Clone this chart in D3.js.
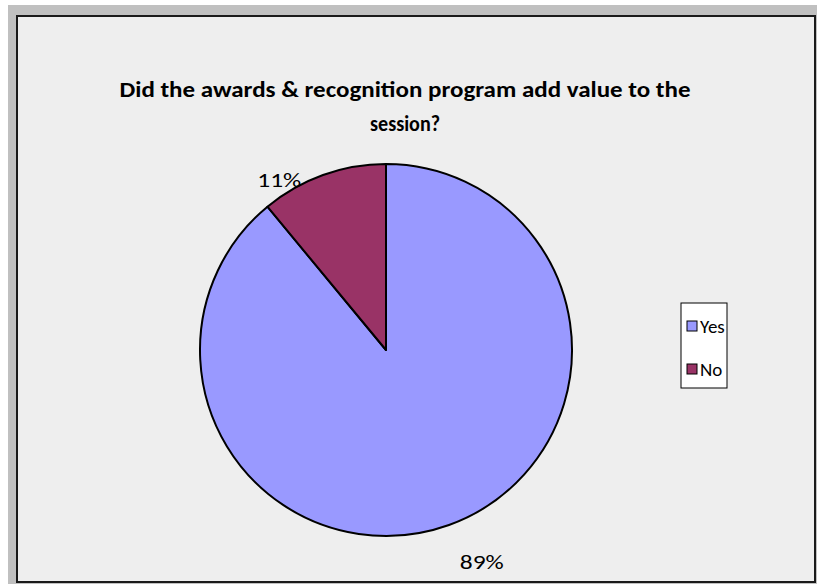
<!DOCTYPE html>
<html>
<head>
<meta charset="utf-8">
<script src="https://cdn.jsdelivr.net/npm/d3@7"></script>
<style>
  body { margin: 0; background: #ffffff; }
  svg { display: block; font-family: Carlito, Lato, "Open Sans", sans-serif; }
</style>
</head>
<body>
<div id="chart"></div>
<script>
// answers and their shares (%)
var categories = ["Yes", "No"];
var shares = [89, 11];
var colors = ["#9999ff", "#993366"];
var titleLines = ["Did the awards & recognition program add value to the", "session?"];
var titleWidths = [571, 70];

var W = 817, H = 584;

var svg = d3.select("#chart")
    .append("svg")
    .attr("width", W)
    .attr("height", H);

// outer grey band and the chart frame
svg.append("rect")
    .attr("x", 8).attr("y", 5)
    .attr("width", W - 8).attr("height", H - 5)
    .attr("fill", "#c0c0c0");

svg.append("rect")
    .attr("x", 17).attr("y", 16)
    .attr("width", 798).attr("height", 566)
    .attr("fill", "#eeeeee")
    .attr("stroke", "#1a1a1a")
    .attr("stroke-width", 2);

// title
svg.selectAll(".title")
    .data(titleLines)
    .enter().append("text")
    .attr("class", "title")
    .attr("x", 405)
    .attr("y", function(d, i) { return 97 + i * 34 })
    .attr("text-anchor", "middle")
    .attr("textLength", function(d, i) { return titleWidths[i] })
    .attr("lengthAdjust", "spacingAndGlyphs")
    .style("font-weight", "bold")
    .style("font-size", "23px")
    .attr("fill", "#000")
    .text(function(d) { return d });

var data = categories.map(function(c, i) { return {name: c, value: shares[i], color: colors[i]} });

var cx = 386, cy = 350, radius = 186;

var pie = d3.pie()
    .sort(null)
    .value(function(d) { return d.value });

var arc = d3.arc()
    .innerRadius(0)
    .outerRadius(radius);

var g = svg.append("g")
    .attr("transform", "translate(" + cx + "," + cy + ")");

var arcs = pie(data);

g.selectAll("path")
    .data(arcs)
    .enter().append("path")
    .attr("d", arc)
    .attr("fill", function(d) { return d.data.color })
    .attr("stroke", "#000")
    .attr("stroke-width", 2)
    .attr("stroke-linejoin", "round");

// percentage labels placed outside the slices
g.selectAll(".lbl")
    .data(arcs)
    .enter().append("text")
    .attr("class", "lbl")
    .attr("x", function(d) {
        var a = (d.startAngle + d.endAngle) / 2;
        return Math.sin(a) * 203 + (Math.sin(a) < 0 ? -38 : 27);
    })
    .attr("y", function(d) {
        var a = (d.startAngle + d.endAngle) / 2;
        return -Math.cos(a) * 203 + 21;
    })
    .attr("text-anchor", "middle")
    .attr("dominant-baseline", "central")
    .attr("textLength", 44)
    .attr("lengthAdjust", "spacingAndGlyphs")
    .style("font-size", "21px")
    .attr("fill", "#000")
    .text(function(d) { return d.data.value + "%" });

// legend
var legend = svg.append("g")
    .attr("transform", "translate(681,303)");

legend.append("rect")
    .attr("width", 46)
    .attr("height", 85)
    .attr("fill", "#ffffff")
    .attr("stroke", "#000")
    .attr("stroke-width", 1);

var items = legend.selectAll(".item")
    .data(data)
    .enter().append("g")
    .attr("transform", function(d, i) { return "translate(6," + (18 + i * 43) + ")" });

items.append("rect")
    .attr("width", 10)
    .attr("height", 10)
    .attr("fill", function(d) { return d.color })
    .attr("stroke", "#000")
    .attr("stroke-width", 1);

items.append("text")
    .attr("x", 13)
    .attr("y", 5)
    .attr("dominant-baseline", "central")
    .style("font-size", "19px")
    .attr("fill", "#000")
    .text(function(d) { return d.name });
</script>
</body>
</html>
